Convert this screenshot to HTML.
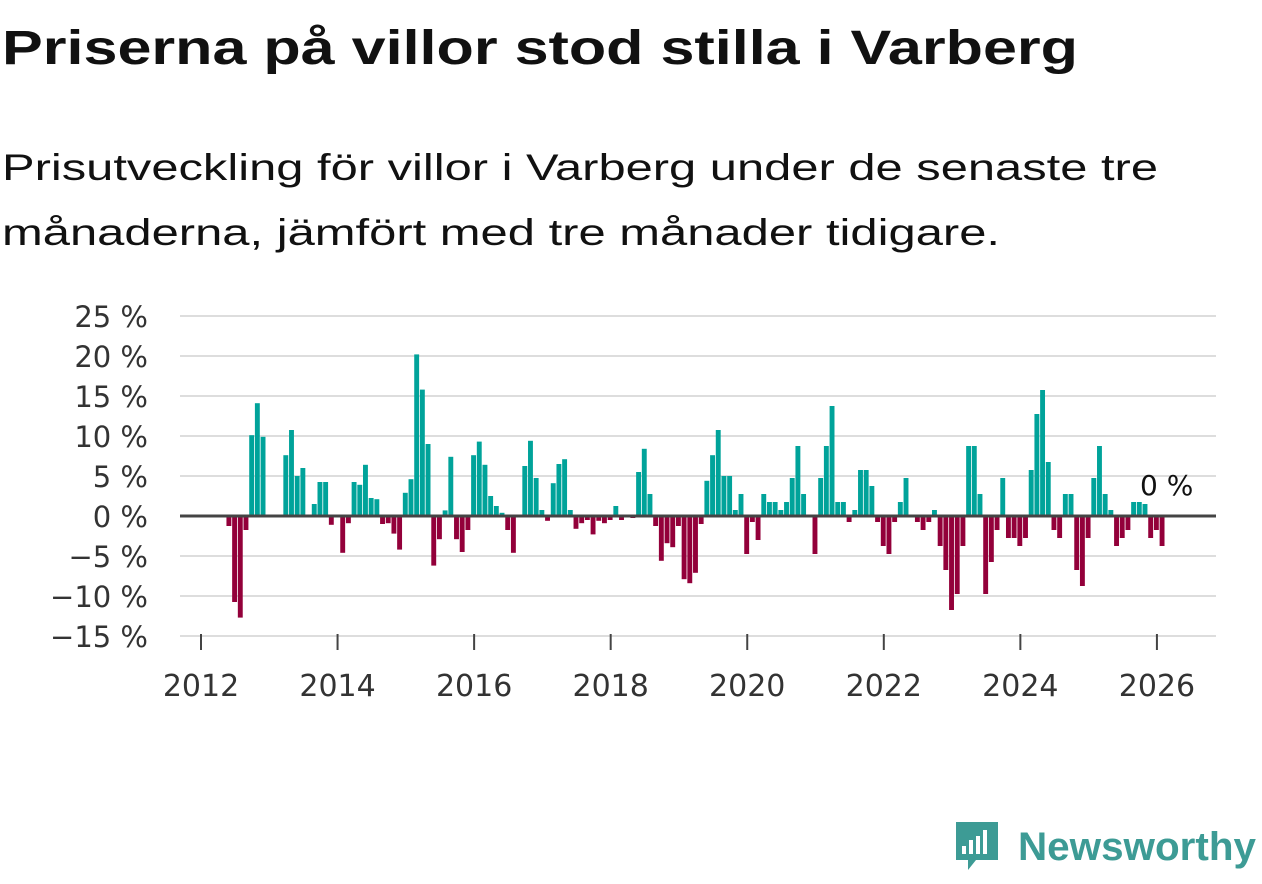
<!DOCTYPE html>
<html><head><meta charset="utf-8"><style>
body{margin:0;background:#fff;width:1262px;height:879px;overflow:hidden;font-family:"Liberation Sans",sans-serif}
</style></head><body>
<svg width="1262" height="879" xmlns="http://www.w3.org/2000/svg">
<text x="2" y="64" font-size="48" font-weight="bold" fill="#111" textLength="1076" lengthAdjust="spacingAndGlyphs">Priserna på villor stod stilla i Varberg</text>
<text x="2" y="180" font-size="37" fill="#111" textLength="1156" lengthAdjust="spacingAndGlyphs">Prisutveckling för villor i Varberg under de senaste tre</text>
<text x="2" y="245" font-size="37" fill="#111" textLength="998" lengthAdjust="spacingAndGlyphs">månaderna, jämfört med tre månader tidigare.</text>
<g id="grid"></g><g id="bars"></g><g id="axes"></g>
<g>
<path d="M956 822h42v38h-22l-8 10v-10h-12z" fill="#3d9b95"/>
<rect x="962" y="846" width="4" height="8" fill="#fff"/><rect x="969" y="840" width="4" height="14" fill="#fff"/><rect x="976" y="836" width="4" height="18" fill="#fff"/><rect x="983" y="830" width="4" height="24" fill="#fff"/>
<text x="1018" y="860" font-size="40" font-weight="bold" fill="#3d9b95" textLength="238" lengthAdjust="spacingAndGlyphs">Newsworthy</text>
</g>
</svg>
<script>
const startYear = 2012;
const values = [0,0,0,0,0,-1.25,-10.75,-12.7,-1.75,10.1,14.1,9.9,0,0,0,7.6,10.75,5.0,6.0,0,1.5,4.25,4.25,-1.1,0,-4.6,-0.9,4.25,3.9,6.4,2.25,2.1,-1.0,-0.9,-2.2,-4.2,2.9,4.6,20.2,15.8,9.0,-6.2,-2.9,0.7,7.4,-2.9,-4.5,-1.75,7.6,9.3,6.4,2.5,1.25,0.4,-1.75,-4.6,0,6.25,9.4,4.75,0.75,-0.6,4.1,6.5,7.1,0.75,-1.6,-0.9,-0.5,-2.3,-0.6,-0.9,-0.5,1.25,-0.5,0,-0.25,5.5,8.4,2.75,-1.25,-5.6,-3.4,-3.9,-1.25,-7.9,-8.4,-7.1,-1.0,4.4,7.6,10.75,5.0,5.0,0.75,2.75,-4.75,-0.75,-3.0,2.75,1.75,1.75,0.75,1.75,4.75,8.75,2.75,0,-4.75,4.75,8.75,13.75,1.75,1.75,-0.75,0.75,5.75,5.75,3.75,-0.75,-3.75,-4.75,-0.75,1.75,4.75,0,-0.75,-1.75,-0.75,0.75,-3.75,-6.75,-11.75,-9.75,-3.75,8.75,8.75,2.75,-9.75,-5.75,-1.75,4.75,-2.75,-2.75,-3.75,-2.75,5.75,12.75,15.75,6.75,-1.75,-2.75,2.75,2.75,-6.75,-8.75,-2.75,4.75,8.75,2.75,0.75,-3.75,-2.75,-1.75,1.75,1.75,1.5,-2.75,-1.75,-3.75,0];
const yTicks = [25,20,15,10,5,0,-5,-10,-15];
const yTickLabels = ["25 %","20 %","15 %","10 %","5 %","0 %","\u22125 %","\u221210 %","\u221215 %"];
const xTicks = [2012,2014,2016,2018,2020,2022,2024,2026];
const lastLabel = "0 %";
const NS="http://www.w3.org/2000/svg";
const TF='"DejaVu Sans", sans-serif';
const xm = i => 201 + i*5.69;
const xy = y => 201 + (y-startYear)*12*5.69;
const yv = v => 516 - v*8;
function mk(t,a,p){const e=document.createElementNS(NS,t);for(const k in a)e.setAttribute(k,a[k]);document.getElementById(p).appendChild(e);return e;}
yTicks.forEach((t,k)=>{
  const g=mk('line',{x1:180,x2:1216,y1:yv(t),y2:yv(t),stroke:'#ddd','stroke-width':2},'grid');
  
  
  const l=mk('text',{x:148,y:yv(t)+11,'text-anchor':'end','font-size':29,fill:'#333','font-family':TF},'axes');
  l.textContent=yTickLabels[k];
  
  
});
values.forEach((v,i)=>{
  if(!v)return;
  const r=mk('rect',{x:xm(i)-3,width:4.9,y:Math.min(yv(v),516),height:Math.abs(v*8),fill:v>0?'#00a39a':'#93003a'},'bars');
  
  
});
const z=mk('line',{x1:180,x2:1216,y1:516,y2:516,stroke:'#444','stroke-width':3},'axes');


xTicks.forEach(t=>{
  const tk=mk('line',{x1:xy(t),x2:xy(t),y1:634,y2:650,stroke:'#444','stroke-width':2},'axes');
  
  
  const l=mk('text',{x:xy(t),y:696,'text-anchor':'middle','font-size':30,fill:'#333','font-family':TF},'axes');
  l.textContent=t;
  
  
});
const ll=mk('text',{x:1140,y:495,'font-size':28,fill:'#111','font-family':TF},'axes');
ll.textContent=lastLabel;


</script>
</body></html>
